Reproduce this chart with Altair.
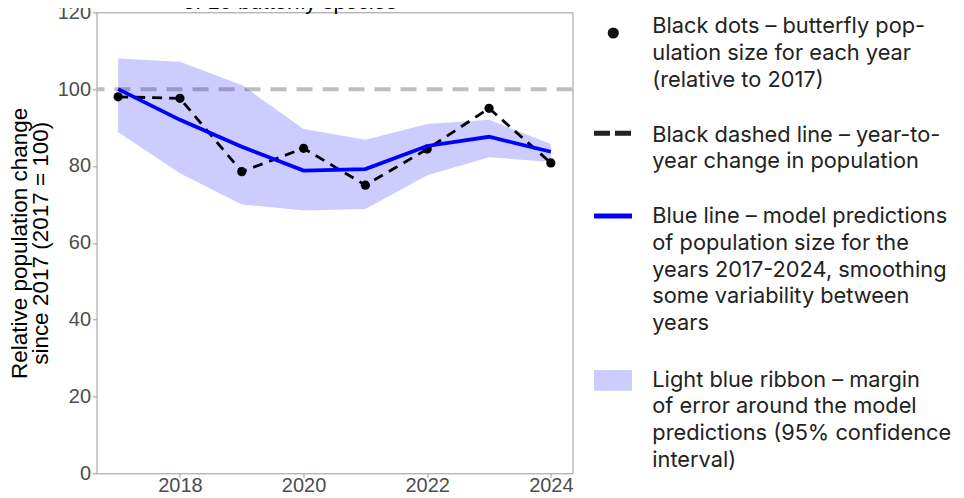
import altair as alt
import pandas as pd

# ---- data ----
years = [2017, 2018, 2019, 2020, 2021, 2022, 2023, 2024]
observed = [98.0, 97.6, 78.5, 84.6, 75.0, 84.4, 95.0, 80.8]
model = [100.0, 92.0, 85.0, 78.8, 79.2, 85.2, 87.6, 83.7]
ci_lower = [88.8, 78.1, 70.0, 68.4, 68.8, 77.6, 82.3, 81.0]
ci_upper = [108.0, 107.1, 101.1, 89.6, 86.8, 90.9, 92.0, 85.7]
reference_level = [100]
x_ticks = [2018, 2020, 2022, 2024]
y_ticks = [0, 20, 40, 60, 80, 100, 120]
y_title = ["Relative population change", "since 2017 (2017 = 100)"]
title_text = "of 15 butterfly species"
legend_texts = [
    "Black dots – butterfly pop-\nulation size for each year\n(relative to 2017)",
    "Black dashed line – year-to-\nyear change in population",
    "Blue line – model predictions\nof population size for the\nyears 2017-2024, smoothing\nsome variability between\nyears",
    "Light blue ribbon – margin\nof error around the model\npredictions (95% confidence\ninterval)",
]

df = pd.DataFrame({"year": years, "observed": observed, "model": model,
                   "lower": ci_lower, "upper": ci_upper})
ref_df = pd.DataFrame({"level": reference_level})
one = pd.DataFrame({"k": [0]})

W, H = 476, 461
FONT = "Liberation Sans"
LFONT = "Inter"
TXT = "#222222"

xs = alt.Scale(domain=[2016.65, 2024.35], nice=False, zero=False)
ys = alt.Scale(domain=[0, 120], nice=False, zero=False)

x_axis = alt.Axis(values=x_ticks, format="d", title=None, grid=False, domain=False,
                  tickSize=4, tickColor="#999999", labelFont=FONT, labelFontSize=20,
                  labelColor="#4d4d4d", labelPadding=-2)
y_axis = alt.Axis(values=y_ticks, title=y_title, grid=False, domain=False,
                  tickSize=4, tickColor="#999999", labelFont=FONT, labelFontSize=20,
                  labelColor="#4d4d4d", labelPadding=2,
                  titleFont=FONT, titleFontSize=22.5, titleFontWeight="normal",
                  titleColor="#000000", titleAngle=270, titleAlign="center",
                  titleBaseline="alphabetic", titleLineHeight=22,
                  titleX=-70.5, titleY=H / 2)

X = lambda f: alt.X(f, type="quantitative", scale=xs, axis=x_axis)
Y = lambda f: alt.Y(f, type="quantitative", scale=ys, axis=y_axis)

hline = alt.Chart(ref_df).mark_rule(color="#bebebe", strokeWidth=4, strokeDash=[16, 10]).encode(
    y=Y("level"))

ribbon = alt.Chart(df).mark_area(color="#0000ff", opacity=0.2).encode(
    x=X("year"), y=Y("lower"), y2="upper")

dashed = alt.Chart(df).mark_line(color="#000000", strokeWidth=2.8, strokeDash=[10, 7]).encode(
    x=X("year"), y=Y("observed"))

points = alt.Chart(df).mark_circle(color="#000000", opacity=1, size=85).encode(
    x=X("year"), y=Y("observed"))

blue = alt.Chart(df).mark_line(color="#0000ff", strokeWidth=3.8).encode(
    x=X("year"), y=Y("model"))

title_sliver = alt.Chart(one).mark_text(text=title_text, font=FONT, fontSize=22, color="#000000",
                                        align="center", baseline="alphabetic").encode(
    x=alt.value(193.5), y=alt.value(-3.3))

# ---- hand-built legend on the right ----
lx_text = 555.8
key_x1, key_x2 = 497.5, 535.5
leg_dot = alt.Chart(one).mark_circle(color="#111111", opacity=1, size=125).encode(
    x=alt.value(516.8), y=alt.value(20.7))
leg_dash = alt.Chart(one).mark_rule(color="#222222", strokeWidth=5, strokeDash=[16, 5]).encode(
    x=alt.value(key_x1), x2=alt.value(key_x2), y=alt.value(121))
leg_line = alt.Chart(one).mark_rule(color="#0000ff", strokeWidth=5).encode(
    x=alt.value(key_x1), x2=alt.value(key_x2), y=alt.value(203.7))
leg_rect = alt.Chart(one).mark_rect(color="#ccccff").encode(
    x=alt.value(key_x1), x2=alt.value(key_x2), y=alt.value(357.7), y2=alt.value(378.4))

leg_baselines = [21.0, 129.4, 211.0, 374.4]
leg_texts = []
for t, b in zip(legend_texts, leg_baselines):
    leg_texts.append(
        alt.Chart(one).mark_text(text=t, lineBreak="\n", font=LFONT, fontSize=21.8, color=TXT,
                                 align="left", baseline="alphabetic", lineHeight=26.7).encode(
            x=alt.value(lx_text), y=alt.value(b)))

chart = alt.layer(hline, ribbon, dashed, points, blue, title_sliver,
                  leg_dot, leg_dash, leg_line, leg_rect, *leg_texts).properties(
    width=W, height=H,
    autosize=alt.AutoSizeParams(type="none"),
    padding={"left": 88.5, "top": 4.3, "right": 383.5, "bottom": 24},
).configure_view(stroke="#999999", strokeWidth=1)

chart.save("out.html", embed_options={"renderer": "svg", "actions": False})
